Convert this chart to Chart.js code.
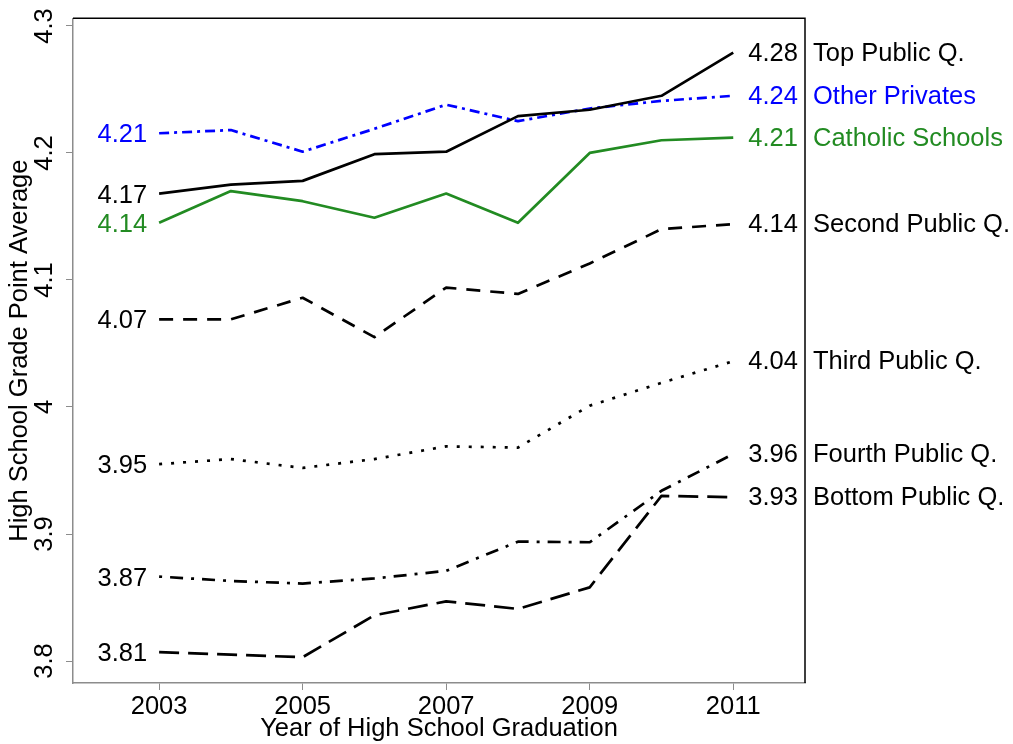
<!DOCTYPE html>
<html>
<head>
<meta charset="utf-8">
<script src="https://cdn.jsdelivr.net/npm/chart.js@4/dist/chart.umd.min.js"></script>
<style>
  html, body { margin: 0; padding: 0; background: #ffffff; }
  #wrap { width: 1013px; height: 744px; }
</style>
</head>
<body>
<div id="wrap"><canvas id="c" width="1013" height="744"></canvas></div>
<script>
const years = [2003, 2004, 2005, 2006, 2007, 2008, 2009, 2010, 2011];
const xTicks = [2003, 2005, 2007, 2009, 2011];
const yTicks = [3.8, 3.9, 4.0, 4.1, 4.2, 4.3];

const topPublic    = [4.168, 4.175, 4.178, 4.199, 4.201, 4.229, 4.234, 4.245, 4.279];
const otherPriv    = [4.2155, 4.218, 4.201, 4.219, 4.238, 4.225, 4.235, 4.241, 4.245];
const catholic     = [4.145, 4.170, 4.162, 4.149, 4.168, 4.145, 4.200, 4.210, 4.212];
const secondPublic = [4.069, 4.069, 4.086, 4.055, 4.094, 4.089, 4.113, 4.140, 4.144];
const thirdPublic  = [3.955, 3.959, 3.952, 3.959, 3.969, 3.968, 4.001, 4.019, 4.036];
const fourthPublic = [3.8665, 3.863, 3.861, 3.865, 3.871, 3.894, 3.8935, 3.934, 3.963];
const bottomPublic = [3.807, 3.805, 3.803, 3.836, 3.847, 3.841, 3.858, 3.930, 3.929];

const seriesNames = ["Top Public Q.", "Other Privates", "Catholic Schools", "Second Public Q.", "Third Public Q.", "Fourth Public Q.", "Bottom Public Q."];
const startLabels = ["4.17", "4.21", "4.14", "4.07", "3.95", "3.87", "3.81"];
const endLabels   = ["4.28", "4.24", "4.21", "4.14", "4.04", "3.96", "3.93"];

const FONT = "'Liberation Sans', Arial, Helvetica, sans-serif";
const FS = 25.5;
const BLUE = "#0000FF", GREEN = "#228B22", BLACK = "#000000";

const seriesValues = [topPublic, otherPriv, catholic, secondPublic, thirdPublic, fourthPublic, bottomPublic];
const seriesColors = [BLACK, BLUE, GREEN, BLACK, BLACK, BLACK, BLACK];
const seriesDashes = [[], [10, 5, 3, 5], [], [14, 10], [3, 9], [3, 8, 13, 8], [20, 9]];

const datasets = seriesValues.map((vals, i) => ({
  label: seriesNames[i],
  data: years.map((yr, k) => ({ x: yr, y: vals[k] })),
  borderColor: seriesColors[i],
  backgroundColor: seriesColors[i],
  borderWidth: 2.7,
  borderDash: seriesDashes[i],
  borderCapStyle: 'butt',
  borderJoinStyle: 'round',
  pointRadius: 0,
  tension: 0,
  fill: false,
  startLabel: startLabels[i],
  endLabel: endLabels[i]
}));

const labelPlugin = {
  id: 'labelPlugin',
  afterDatasetsDraw(chart) {
    const ctx = chart.ctx;
    const area = chart.chartArea;
    ctx.save();
    ctx.font = FS + "px " + FONT;
    ctx.textBaseline = 'middle';
    chart.data.datasets.forEach((ds, i) => {
      const meta = chart.getDatasetMeta(i);
      const first = meta.data[0];
      const last = meta.data[meta.data.length - 1];
      ctx.fillStyle = ds.borderColor;
      ctx.textAlign = 'right';
      ctx.fillText(ds.startLabel, first.x - 12, first.y + 2);
      ctx.textAlign = 'left';
      ctx.fillText(ds.endLabel, last.x + 15, last.y + 1);
      ctx.fillText(ds.label, area.right + 8, last.y + 1);
    });
    // box: top and right edges in black
    ctx.strokeStyle = '#000000';
    ctx.lineWidth = 1.5;
    ctx.beginPath();
    ctx.moveTo(area.left, area.top);
    ctx.lineTo(area.right, area.top);
    ctx.lineTo(area.right, area.bottom);
    ctx.stroke();
    ctx.restore();
  }
};

new Chart(document.getElementById('c'), {
  type: 'line',
  data: { datasets },
  options: {
    responsive: false,
    devicePixelRatio: 1,
    animation: false,
    layout: { padding: { left: 0, top: 17, right: 208, bottom: 0 } },
    plugins: { legend: { display: false }, tooltip: { enabled: false } },
    scales: {
      x: {
        type: 'linear',
        min: 2001.8,
        max: 2012.0,
        afterBuildTicks(scale) { scale.ticks = xTicks.map(v => ({ value: v })); },
        afterFit(scale) { scale.height = 61; },
        grid: { drawOnChartArea: false, drawTicks: true, tickLength: 7, color: '#8c8c8c', tickColor: '#8c8c8c' },
        border: { display: true, color: '#8c8c8c', width: 1.5 },
        ticks: {
          color: '#000000',
          font: { family: FONT, size: FS },
          padding: 2,
          maxRotation: 0,
          minRotation: 0,
          callback: v => String(v)
        },
        title: {
          display: true,
          text: 'Year of High School Graduation',
          color: '#000000',
          font: { family: FONT, size: FS },
          padding: { top: 1, bottom: 0 }
        }
      },
      y: {
        type: 'linear',
        min: 3.7827,
        max: 4.306,
        afterBuildTicks(scale) { scale.ticks = yTicks.map(v => ({ value: v })); },
        afterFit(scale) { scale.width = 73; },
        grid: { drawOnChartArea: false, drawTicks: true, tickLength: 7, color: '#8c8c8c', tickColor: '#8c8c8c' },
        border: { display: true, color: '#8c8c8c', width: 1.5 },
        ticks: {
          color: '#000000',
          font: { family: FONT, size: FS },
          padding: 3,
          minRotation: 90,
          maxRotation: 90,
          crossAlign: 'center',
          callback: v => String(Math.round(v * 10) / 10)
        },
        title: {
          display: true,
          text: 'High School Grade Point Average',
          color: '#000000',
          font: { family: FONT, size: FS },
          padding: { top: 5, bottom: 0 }
        }
      }
    }
  },
  plugins: [labelPlugin]
});
</script>
</body>
</html>
